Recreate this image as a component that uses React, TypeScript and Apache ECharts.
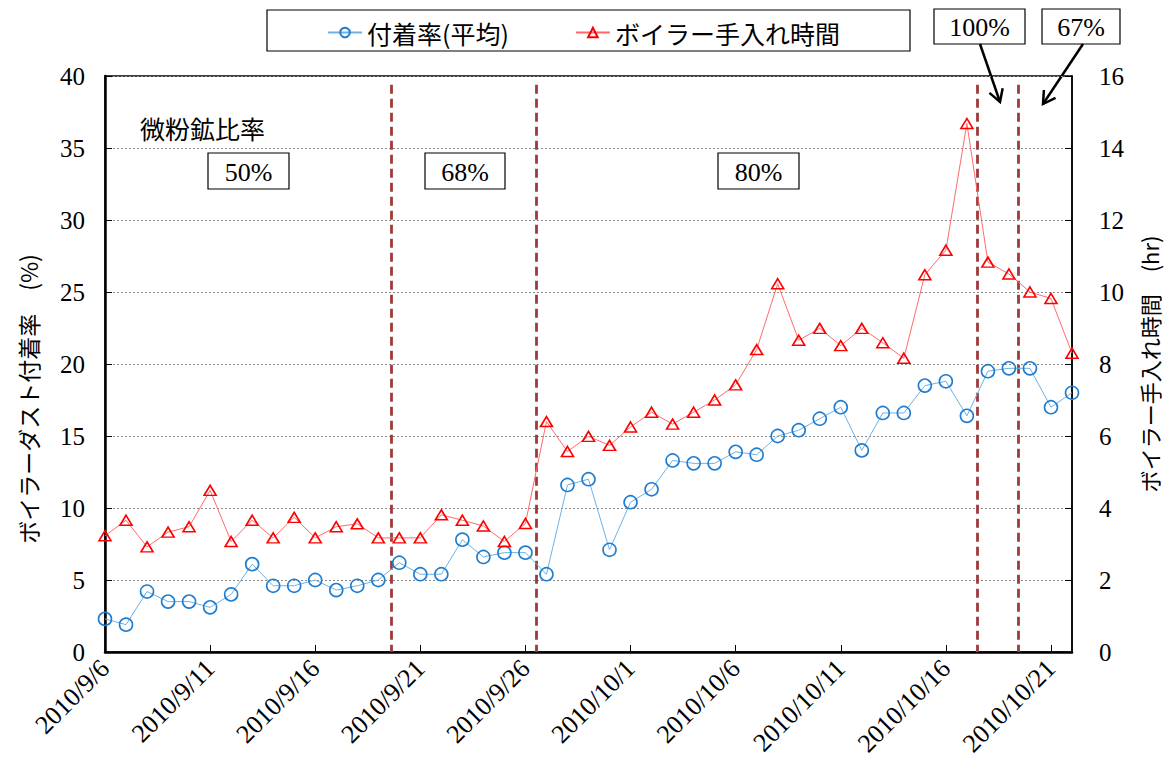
import React, { useEffect, useRef } from "react";
import * as echarts from "echarts";

const dates = [
  "2010/9/6", "2010/9/7", "2010/9/8", "2010/9/9", "2010/9/10", "2010/9/11", "2010/9/12", "2010/9/13",
  "2010/9/14", "2010/9/15", "2010/9/16", "2010/9/17", "2010/9/18", "2010/9/19", "2010/9/20", "2010/9/21",
  "2010/9/22", "2010/9/23", "2010/9/24", "2010/9/25", "2010/9/26", "2010/9/27", "2010/9/28", "2010/9/29",
  "2010/9/30", "2010/10/1", "2010/10/2", "2010/10/3", "2010/10/4", "2010/10/5", "2010/10/6", "2010/10/7",
  "2010/10/8", "2010/10/9", "2010/10/10", "2010/10/11", "2010/10/12", "2010/10/13", "2010/10/14", "2010/10/15",
  "2010/10/16", "2010/10/17", "2010/10/18", "2010/10/19", "2010/10/20", "2010/10/21", "2010/10/22",
];

// 付着率(平均) [%]
const adhesion = [
  2.3, 1.9, 4.2, 3.5, 3.5, 3.1, 4.0, 6.1, 4.6, 4.6,
  5.0, 4.3, 4.6, 5.0, 6.2, 5.4, 5.4, 7.8, 6.6, 6.9,
  6.9, 5.4, 11.6, 12.0, 7.1, 10.4, 11.3, 13.3, 13.1, 13.1,
  13.9, 13.7, 15.0, 15.4, 16.2, 17.0, 14.0, 16.6, 16.6, 18.5,
  18.8, 16.4, 19.5, 19.7, 19.7, 17.0, 18.0,
];

// ボイラー手入れ時間 [hr]
const hours = [
  3.23, 3.66, 2.92, 3.33, 3.48, 4.49, 3.07, 3.66, 3.17, 3.74,
  3.17, 3.48, 3.56, 3.17, 3.17, 3.17, 3.81, 3.66, 3.5, 3.07,
  3.57, 6.4, 5.57, 5.99, 5.74, 6.25, 6.66, 6.33, 6.66, 7.0,
  7.42, 8.4, 10.23, 8.66, 8.99, 8.51, 8.99, 8.59, 8.16, 10.48,
  11.16, 14.68, 10.83, 10.5, 10.0, 9.82, 8.3,
];

// day offsets (from 2010/9/6) where the fine-ore ratio changes
const periodBreaks = [13.6, 20.5, 41.5, 43.45];
const ratioLabels = ["50%", "68%", "80%", "100%", "67%"];

const SERIF = "serif";
const CJK = "Noto Sans CJK JP";

export default function App() {
  const ref = useRef<HTMLDivElement>(null);

  useEffect(() => {
    if (!ref.current) return;
    const chart = echarts.init(ref.current, undefined, { renderer: "svg" });

    const box = (x: number, y: number, w: number, h: number, text: string) => ({
      type: "group",
      children: [
        { type: "rect", shape: { x, y, width: w, height: h }, style: { fill: "#fff", stroke: "#000", lineWidth: 1.2 } },
        {
          type: "text",
          x: x + w / 2,
          y: y + h / 2 + 1,
          style: { text, fill: "#000", font: "26px serif", align: "center", verticalAlign: "middle" },
        },
      ],
    });

    const arrow = (x1: number, y1: number, x2: number, y2: number) => {
      const dx = x2 - x1, dy = y2 - y1;
      const len = Math.sqrt(dx * dx + dy * dy);
      const bx = -dx / len, by = -dy / len;
      const c = Math.cos(Math.PI / 6), s = Math.sin(Math.PI / 6);
      const L = 14;
      const w1 = [x2 + L * (bx * c - by * s), y2 + L * (bx * s + by * c)];
      const w2 = [x2 + L * (bx * c + by * s), y2 + L * (-bx * s + by * c)];
      return {
        type: "group",
        children: [
          { type: "line", shape: { x1, y1, x2, y2 }, style: { stroke: "#000", lineWidth: 2.5 } },
          { type: "polyline", shape: { points: [w1, [x2, y2], w2] }, style: { stroke: "#000", lineWidth: 2.5, fill: "none" } },
        ],
      };
    };

    const option: any = {
      animation: false,
      backgroundColor: "#fff",
      grid: {
        left: 105,
        right: 102,
        top: 76,
        bottom: 129,
        outerBoundsMode: "none",
        containLabel: false,
        show: true,
        borderColor: "#000",
        borderWidth: 1.5,
        backgroundColor: "transparent",
      },
      legend: {
        left: 322,
        top: 15,
        itemGap: 66,
        itemWidth: 34,
        itemHeight: 12,
        textStyle: { fontSize: 25, fontFamily: CJK, color: "#000" },
        data: ["付着率(平均)", "ボイラー手入れ時間"],
      },
      xAxis: {
        type: "value",
        min: 0,
        max: dates.length - 1,
        interval: 5,
        axisLine: { show: true, onZero: false, lineStyle: { color: "#000", width: 2.5 } },
        axisTick: { show: true, inside: true, length: 7, lineStyle: { color: "#000", width: 1 } },
        splitLine: { show: false },
        axisLabel: {
          rotate: 45,
          margin: 12,
          fontSize: 26,
          fontFamily: SERIF,
          color: "#000",
          showMaxLabel: false,
          formatter: (v: number) => (Number.isInteger(v) && dates[v] ? dates[v] : ""),
        },
      },
      yAxis: [
        {
          type: "value",
          min: 0,
          max: 40,
          interval: 5,
          name: "ボイラーダスト付着率　(%)",
          nameLocation: "middle",
          nameGap: 66,
          nameRotate: 90,
          nameTextStyle: { fontSize: 23, fontFamily: CJK, color: "#000", padding: [0, 70, 0, 0] },
          axisLine: { show: true, lineStyle: { color: "#000", width: 2.5 } },
          axisTick: { show: true, inside: true, length: 7, lineStyle: { color: "#000" } },
          splitLine: { show: true, lineStyle: { color: "#888", type: [2, 2], width: 1 } },
          axisLabel: { margin: 20, fontSize: 25, fontFamily: SERIF, color: "#000" },
        },
        {
          type: "value",
          min: 0,
          max: 16,
          interval: 2,
          position: "right",
          name: "ボイラー手入れ時間　(hr)",
          nameLocation: "middle",
          nameGap: 66,
          nameRotate: 90,
          nameTextStyle: { fontSize: 22, fontFamily: CJK, color: "#000" },
          axisLine: { show: true, lineStyle: { color: "#000", width: 1.5 } },
          axisTick: { show: true, inside: true, length: 7, lineStyle: { color: "#000" } },
          splitLine: { show: false },
          axisLabel: { margin: 27, fontSize: 25, fontFamily: SERIF, color: "#000" },
        },
      ],
      series: [
        {
          name: "付着率(平均)",
          type: "line",
          yAxisIndex: 0,
          data: adhesion.map((v, i) => [i, v]),
          symbol: "circle",
          symbolSize: 13,
          lineStyle: { color: "#6cb2e8", width: 1 },
          itemStyle: { color: "rgba(255,255,255,0)", borderColor: "#1f7dd1", borderWidth: 1.6 },
          z: 3,
          markLine: {
            silent: true,
            symbol: "none",
            label: { show: false },
            lineStyle: { color: "#9e3a3a", width: 2.8, type: [9, 5] },
            data: periodBreaks.map((x) => [{ coord: [x, 39.4] }, { coord: [x, 0] }]),
            z: 2,
          },
        },
        {
          name: "ボイラー手入れ時間",
          type: "line",
          yAxisIndex: 1,
          data: hours.map((v, i) => [i, v]),
          symbol: "triangle",
          symbolSize: [12, 10],
          lineStyle: { color: "#ff6b6b", width: 1 },
          itemStyle: { color: "rgba(255,255,255,0)", borderColor: "#ff0000", borderWidth: 1.6 },
          z: 3,
        },
      ],
      graphic: [
        { type: "rect", z: -1, shape: { x: 267, y: 10, width: 643, height: 41 }, style: { fill: "#fff", stroke: "#000", lineWidth: 1.2 } },
        {
          type: "text",
          x: 140,
          y: 128,
          style: { text: "微粉鉱比率", fill: "#000", fontSize: 25, fontFamily: CJK, verticalAlign: "middle" },
        },
        box(208, 153, 81, 36, ratioLabels[0]),
        box(425, 153, 80, 36, ratioLabels[1]),
        box(718, 153, 81, 36, ratioLabels[2]),
        box(934, 9, 91, 35, ratioLabels[3]),
        box(1042, 9, 78, 35, ratioLabels[4]),
        arrow(980, 44, 1000, 102),
        arrow(1083, 44, 1043, 104),
      ],
    };

    chart.setOption(option);
    return () => chart.dispose();
  }, []);

  return <div ref={ref} style={{ width: 1174, height: 781, margin: -8 }} />;
}
